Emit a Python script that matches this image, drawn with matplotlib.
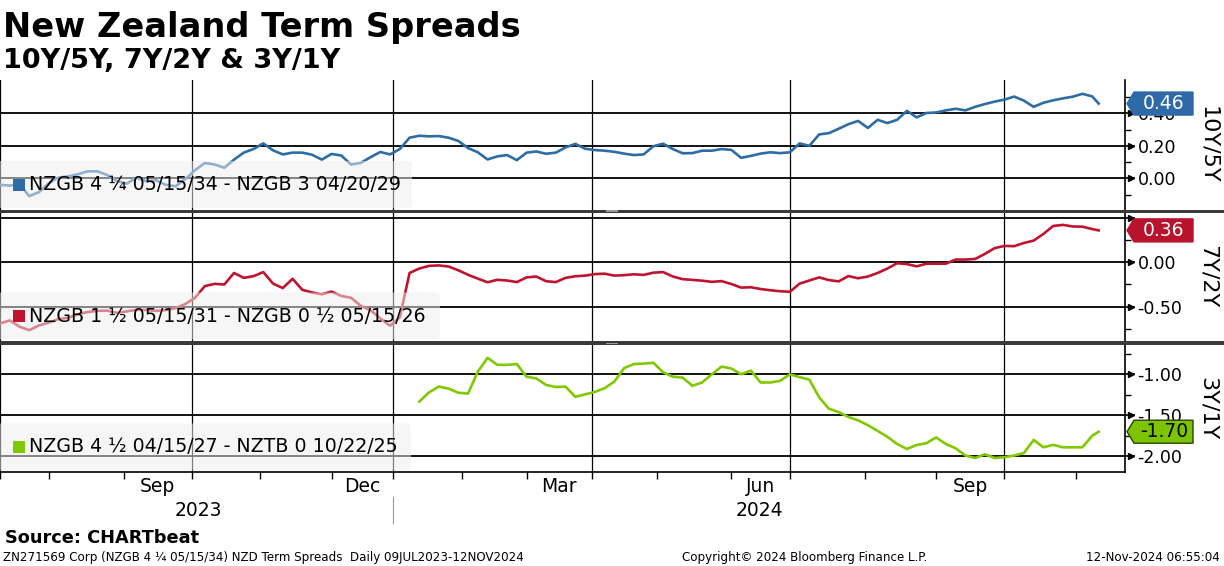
import numpy as np
import pandas as pd
import matplotlib
matplotlib.use('Agg')
import matplotlib.pyplot as plt
from matplotlib.patches import FancyBboxPatch, Polygon, Rectangle
from matplotlib.transforms import IdentityTransform, blended_transform_factory

plt.rcParams['font.family'] = ['DejaVu Sans']
plt.rcParams['axes.unicode_minus'] = False

W, H = 1224, 566

# NZ trading calendar (Bloomberg x axis skips weekends and NZ holidays)
NZ_HOLIDAYS = ['2023-07-14', '2023-10-23', '2023-12-25', '2023-12-26',
               '2024-01-01', '2024-01-02', '2024-02-06', '2024-03-29',
               '2024-04-01', '2024-04-25', '2024-06-03', '2024-06-28',
               '2024-10-28']
trading_days = pd.bdate_range('2023-07-10', '2024-11-12', freq='C', holidays=NZ_HOLIDAYS)
sample_dates = trading_days[list(range(0, 337, 3)) + [338]]

# 10Y/5Y : NZGB 4 1/4 05/15/34 - NZGB 3 04/20/29
spread_10y5y = [
    -0.04, -0.045, -0.035, -0.11, -0.085, -0.03, 0.005, 0.012, 0.025, 0.043,
    0.043, 0.02, -0.017, -0.033, 0.005, -0.018, -0.012, -0.04, -0.049, -0.005,
    0.05, 0.094, 0.085, 0.065, 0.115, 0.158, 0.18, 0.215, 0.172, 0.147,
    0.158, 0.158, 0.145, 0.115, 0.15, 0.14, 0.085, 0.095, 0.13, 0.162,
    0.147, 0.18, 0.25, 0.262, 0.258, 0.26, 0.25, 0.23, 0.186, 0.16,
    0.116, 0.135, 0.143, 0.112, 0.158, 0.165, 0.151, 0.158, 0.19, 0.212,
    0.182, 0.174, 0.17, 0.163, 0.152, 0.143, 0.147, 0.197, 0.213, 0.18,
    0.154, 0.155, 0.17, 0.17, 0.18, 0.175, 0.126, 0.138, 0.152, 0.16,
    0.155, 0.16, 0.215, 0.2, 0.27, 0.278, 0.305, 0.333, 0.353, 0.31,
    0.36, 0.34, 0.36, 0.415, 0.375, 0.402, 0.405, 0.418, 0.428, 0.418,
    0.44, 0.457, 0.472, 0.484, 0.503, 0.478, 0.44, 0.465, 0.48, 0.492,
    0.502, 0.52, 0.504, 0.46]

# 7Y/2Y : NZGB 1 1/2 05/15/31 - NZGB 0 1/2 05/15/26
spread_7y2y = [
    -0.69, -0.655, -0.725, -0.765, -0.711, -0.68, -0.64, -0.625, -0.585, -0.56,
    -0.547, -0.545, -0.57, -0.553, -0.535, -0.537, -0.548, -0.538, -0.517, -0.47,
    -0.40, -0.268, -0.243, -0.25, -0.12, -0.175, -0.156, -0.11, -0.24, -0.29,
    -0.186, -0.31, -0.34, -0.36, -0.33, -0.379, -0.40, -0.49, -0.54, -0.633,
    -0.715, -0.62, -0.12, -0.07, -0.04, -0.035, -0.047, -0.09, -0.14, -0.184,
    -0.225, -0.197, -0.205, -0.223, -0.17, -0.16, -0.213, -0.223, -0.175, -0.157,
    -0.15, -0.133, -0.128, -0.15, -0.145, -0.135, -0.142, -0.117, -0.11, -0.16,
    -0.19, -0.198, -0.207, -0.22, -0.212, -0.245, -0.285, -0.281, -0.301, -0.315,
    -0.326, -0.332, -0.24, -0.205, -0.17, -0.20, -0.215, -0.155, -0.18, -0.16,
    -0.12, -0.07, -0.01, -0.02, -0.045, -0.016, -0.016, -0.015, 0.031, 0.031,
    0.038, 0.095, 0.16, 0.185, 0.182, 0.218, 0.245, 0.32, 0.41, 0.422,
    0.404, 0.402, 0.375, 0.36]

# 3Y/1Y : NZGB 4 1/2 04/15/27 - NZTB 0 10/22/25 (starts mid Jan 2024)
spread_3y1y = [np.nan] * 43 + [
    -1.333, -1.22, -1.15, -1.175, -1.225, -1.235, -0.967,
    -0.80, -0.885, -0.885, -0.875, -1.03, -1.05, -1.13, -1.155, -1.15, -1.275,
    -1.245, -1.215, -1.17, -1.089, -0.925, -0.875, -0.87, -0.86, -0.975, -1.03,
    -1.04, -1.14, -1.10, -1.00, -0.906, -0.93, -1.0, -0.955, -1.10, -1.10,
    -1.08, -1.0, -1.035, -1.065, -1.28, -1.42, -1.46, -1.52, -1.562, -1.62,
    -1.69, -1.762, -1.85, -1.91, -1.862, -1.84, -1.77, -1.85, -1.902, -1.99,
    -2.02, -1.975, -2.02, -2.01, -1.99, -1.96, -1.80, -1.89, -1.86, -1.89,
    -1.89, -1.89, -1.75, -1.70]

legend_texts = ['NZGB 4 \u00bc 05/15/34 - NZGB 3 04/20/29',
                'NZGB 1 \u00bd 05/15/31 - NZGB 0 \u00bd 05/15/26',
                'NZGB 4 \u00bd 04/15/27 - NZTB 0 10/22/25']
right_labels = ['10Y/5Y', '7Y/2Y', '3Y/1Y']
colors = ['#2e6ca6', '#c0142e', '#80c800']
tag_colors = ['#2e6aa8', '#b8122c', '#7cc400']
tag_text = ['white', 'white', 'black']

panels = [
    dict(vals=spread_10y5y, ylim=(-0.192, 0.605), major=[0.0, 0.2, 0.4],
         labels=['0.00', '0.20', '0.40'], minor=[-0.1, 0.1, 0.3, 0.5],
         box=(80, 209.5), legw=412),
    dict(vals=spread_7y2y, ylim=(-0.887, 0.556), major=[-0.5, 0.0, 0.5],
         labels=['-0.50', '0.00', ''], minor=[-0.75, -0.25, 0.25],
         box=(213, 341), legw=440),
    dict(vals=spread_3y1y, ylim=(-2.191, -0.637), major=[-2.0, -1.5, -1.0],
         labels=['-2.00', '-1.50', '-1.00'], minor=[-1.75, -1.25, -0.75],
         box=(344.5, 472), legw=411),
]

x = trading_days.get_indexer(sample_dates)
xlim = (1.01, 346.1)

month_starts = trading_days.to_series().groupby(trading_days.to_period('M')).first()
month_pos = trading_days.get_indexer(month_starts.values)
quarter_pos = [p for p, d in zip(month_pos, month_starts.values)
               if pd.Timestamp(d).month in (1, 4, 7, 10)]

fig = plt.figure(figsize=(W / 100, H / 100), dpi=100)
px = IdentityTransform()

axes = []
for i, p in enumerate(panels):
    top, bot = p['box']
    ax = fig.add_axes([0, 1 - bot / H, 1125 / W, (bot - top) / H])
    axes.append(ax)
    ax.plot(x, p['vals'], color=colors[i], lw=1.9, solid_joinstyle='round', zorder=2)
    ax.set_xlim(*xlim)
    ax.set_ylim(*p['ylim'])
    ax.yaxis.tick_right()
    ax.set_yticks(p['major'], p['labels'])
    ax.set_yticks(p['minor'], minor=True)
    ax.tick_params(axis='y', which='major', direction='out', length=7, width=1.2,
                   labelsize=12.5, pad=2)
    ax.tick_params(axis='y', which='minor', direction='out', length=4, width=1)
    ax.grid(axis='y', which='major', color='black', lw=1.3, zorder=1)
    for q in quarter_pos:
        ax.axvline(q, color='black', lw=0.9, zorder=1)
    ax.set_xticks(month_pos, [''] * len(month_pos))
    for s in ['top', 'left', 'bottom']:
        ax.spines[s].set_visible(False)
    ax.spines['right'].set_linewidth(1.2)
    if i < 2:
        ax.tick_params(axis='x', length=0)
    else:
        ax.spines['bottom'].set_visible(True)
        ax.spines['bottom'].set_linewidth(1.2)
        ax.tick_params(axis='x', direction='out', length=5, width=1)
    # small arrow heads on the major ticks
    tr = blended_transform_factory(ax.transAxes, ax.transData)
    ax.plot([1.0055] * len(p['major']), p['major'], marker='>', ms=4, color='black',
            ls='none', transform=tr, clip_on=False)

    # legend box, semi transparent over the line
    y0 = (H - bot) + 1.5
    fig.add_artist(FancyBboxPatch((-6, y0), p['legw'] + 6, 47,
                                  boxstyle='round,pad=0,rounding_size=5',
                                  fc='#efefef', ec='none', alpha=0.52,
                                  transform=px, zorder=3))
    fig.add_artist(Rectangle((13, y0 + 17.5), 12, 12, fc=colors[i], ec='none',
                             transform=px, zorder=4))
    fig.text(29, y0 + 23.5, legend_texts[i], fontsize=13.7, va='center', ha='left',
             transform=px, zorder=5)

    # right axis title
    fig.text(1208 / W, 1 - (top + bot) / 2 / H, right_labels[i], rotation=270,
             fontsize=16, ha='center', va='center')

    # last value tag
    last = [v for v in p['vals'] if not np.isnan(v)][-1]
    yc = ax.transData.transform((0, last))[1]
    xa = 1127
    poly = [(xa, yc), (xa + 7, yc + 11.5), (xa + 66, yc + 11.5),
            (xa + 66, yc - 11.5), (xa + 7, yc - 11.5)]
    fig.add_artist(Polygon(poly, closed=True, fc=tag_colors[i],
                           ec='#2a4400' if i == 2 else tag_colors[i], lw=1,
                           transform=px, zorder=6))
    fig.text(xa + 37, yc, '%.2f' % last, color=tag_text[i], fontsize=13.5,
             ha='center', va='center', transform=px, zorder=7)

# panel dividers
for yt, yb in [(209.5, 213), (341, 344.5)]:
    fig.add_artist(Rectangle((0, H - yb), W, yb - yt, fc='#3a3a3a', ec='none',
                             transform=px, zorder=8))
    for dy in (1.2, 2.5):
        fig.add_artist(Rectangle((606, H - yt - dy), 12, 0.6, fc='#9a9a9a',
                                 ec='none', transform=px, zorder=9))

# x axis labels
axb = axes[-1]
trx = blended_transform_factory(axb.transData, axb.transAxes)
hgt = panels[-1]['box'][1] - panels[-1]['box'][0]
for j, d in enumerate(month_starts.index):
    if d.month in (3, 6, 9, 12):
        nxt = month_pos[j + 1] if j + 1 < len(month_pos) else xlim[1]
        axb.text((month_pos[j] + nxt) / 2, -15 / hgt, d.strftime('%b'), transform=trx,
                 ha='center', va='center', fontsize=13.5)
jan = trading_days.get_indexer([pd.Timestamp('2024-01-03')])[0]
axb.text((xlim[0] + jan) / 2, -39 / hgt, '2023', transform=trx, ha='center',
         va='center', fontsize=13.5)
axb.text((jan + xlim[1]) / 2, -39 / hgt, '2024', transform=trx, ha='center',
         va='center', fontsize=13.5)
axb.plot([jan, jan], [-25 / hgt, -51 / hgt], color='#999999', lw=0.8,
         transform=trx, clip_on=False)

# titles
fig.text(3 / W, 1 - 37 / H, 'New Zealand Term Spreads', fontsize=24.2,
         weight='bold', va='baseline')
fig.text(3 / W, 1 - 68 / H, '10Y/5Y, 7Y/2Y & 3Y/1Y', fontsize=19.5,
         weight='bold', va='baseline')
fig.text(5 / W, 1 - 543 / H, 'Source: CHARTbeat', fontsize=12.8, weight='bold',
         va='baseline')
fig.text(3 / W, 1 - 561 / H,
         'ZN271569 Corp (NZGB 4 \u00bc 05/15/34) NZD Term Spreads  Daily 09JUL2023-12NOV2024',
         fontsize=8.6, va='baseline')
fig.text(805 / W, 1 - 561 / H, 'Copyright\u00a9 2024 Bloomberg Finance L.P.',
         fontsize=8.6, va='baseline', ha='center')
fig.text(1220 / W, 1 - 561 / H, '12-Nov-2024 06:55:04', fontsize=8.6,
         va='baseline', ha='right')

fig.savefig('out.png', dpi=100)
